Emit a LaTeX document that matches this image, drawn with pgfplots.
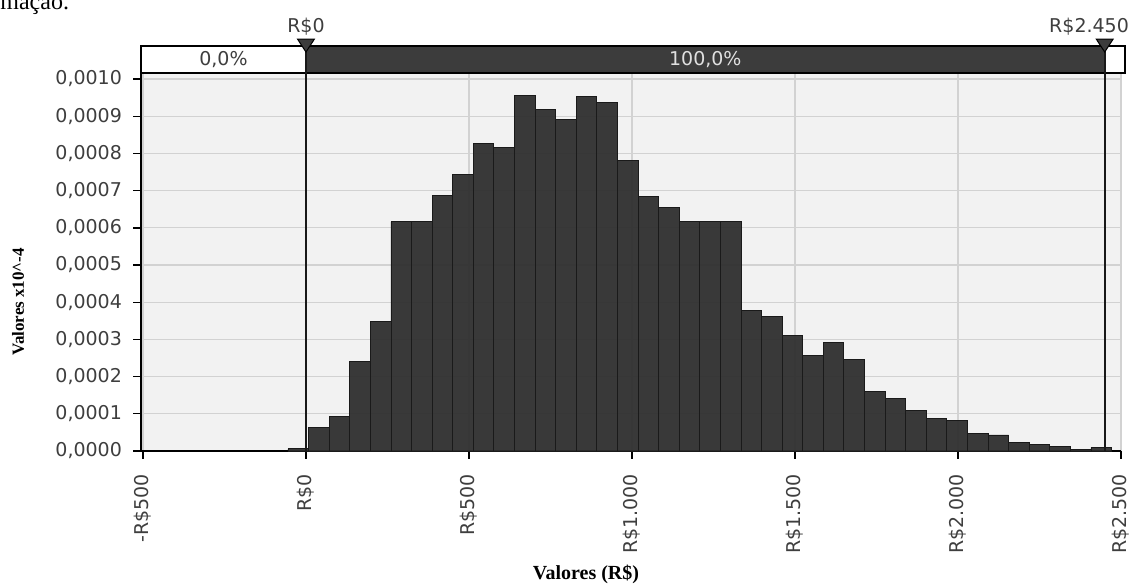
\documentclass[border=0pt]{standalone}
\usepackage{pgfplots}
\pgfplotsset{compat=1.18}
\usepackage{fontspec}
\setmainfont{DejaVu Sans}
\newfontfamily\serif{Liberation Serif}
\definecolor{bargray}{HTML}{2E2E2E}
\definecolor{barline}{HTML}{1A1A1A}
\definecolor{topdark}{HTML}{3C3C3C}
\definecolor{bgplot}{HTML}{F2F2F2}
\definecolor{gridc}{HTML}{D2D2D2}
\definecolor{txt}{HTML}{3E3E3E}
\begin{document}
\begin{tikzpicture}[x=1pt,y=1pt]
\useasboundingbox (0,0) rectangle (567,293.5);
\begin{axis}[
  at={(70.5pt,68pt)}, anchor=south west,
  scale only axis, width=490pt, height=189pt,
  xmin=-506, xmax=2500, ymin=0, ymax=0.0010162,
  axis x line=bottom, axis y line=left,
  axis line style={-, black, line width=0.8pt},
  axis background/.style={fill=bgplot},
  grid=major, grid style={gridc, line width=0.6pt},
  xtick={-500,0,500,1000,1500,2000,2500},
  xticklabels={-R\$500,R\$0,R\$500,R\$1.000,R\$1.500,R\$2.000,R\$2.500},
  ytick={0,0.0001,0.0002,0.0003,0.0004,0.0005,0.0006,0.0007,0.0008,0.0009,0.0010},
  yticklabels={{0,0000},{0,0001},{0,0002},{0,0003},{0,0004},{0,0005},{0,0006},{0,0007},{0,0008},{0,0009},{0,0010}},
  scaled y ticks=false,
  tick align=outside, major tick length=4pt,
  tick style={black, line width=0.7pt},
  xticklabel style={rotate=90, anchor=east, font=\fontsize{9.5}{11}\selectfont, color=txt},
  xticklabel shift=4pt,
  yticklabel style={font=\fontsize{9.5}{11}\selectfont, color=txt},
  yticklabel shift=2pt,
  clip=false,
]
\addplot[ybar interval, fill=bargray, fill opacity=0.94, draw=barline, line width=0.4pt] coordinates {
(-55.15,0.0000060)
(8,0.0000630)
(71.15,0.0000920)
(134.3,0.0002400)
(197.45,0.0003490)
(260.6,0.0006160)
(323.75,0.0006160)
(386.9,0.0006880)
(450.05,0.0007430)
(513.2,0.0008270)
(576.35,0.0008170)
(639.5,0.0009560)
(702.65,0.0009170)
(765.8,0.0008920)
(828.95,0.0009520)
(892.1,0.0009360)
(955.25,0.0007820)
(1018.4,0.0006840)
(1081.55,0.0006540)
(1144.7,0.0006160)
(1207.85,0.0006160)
(1271,0.0006160)
(1334.15,0.0003790)
(1397.3,0.0003610)
(1460.45,0.0003110)
(1523.6,0.0002560)
(1586.75,0.0002910)
(1649.9,0.0002460)
(1713.05,0.0001610)
(1776.2,0.0001420)
(1839.35,0.0001080)
(1902.5,0.0000880)
(1965.65,0.0000820)
(2028.8,0.0000480)
(2091.95,0.0000430)
(2155.1,0.0000230)
(2218.25,0.0000180)
(2281.4,0.0000130)
(2344.55,0.0000030)
(2407.7,0.0000090)
(2470.85,0)
};
% top delimiter bar
\fill[white] (axis cs:-506,0.0010162) rectangle (axis cs:2512,0.0010887);
\fill[topdark] (axis cs:0,0.0010162) rectangle (axis cs:2450,0.0010887);
\draw[black, line width=0.8pt] (axis cs:-506,0.0010162) rectangle (axis cs:2512,0.0010887);
\node[txt, font=\fontsize{9.5}{11}\selectfont] at (axis cs:-253,0.00105245) {0,0\%};
\node[white!88!black, font=\fontsize{9.5}{11}\selectfont] at (axis cs:1225,0.00105245) {100,0\%};
\draw[black!90, line width=1pt] (axis cs:0,0) -- (axis cs:0,0.0010887);
\draw[black!90, line width=1pt] (axis cs:2450,0) -- (axis cs:2450,0.0010887);
\fill[topdark, draw=black, line width=0.5pt] (axis cs:-26,0.0011075) -- (axis cs:26,0.0011075) -- (axis cs:0,0.0010726) -- cycle;
\fill[topdark, draw=black, line width=0.5pt] (axis cs:2424,0.0011075) -- (axis cs:2476,0.0011075) -- (axis cs:2450,0.0010726) -- cycle;
\node[txt, font=\fontsize{9.5}{11}\selectfont] at (axis cs:0,0.00114) {R\$0};
\node[txt, font=\fontsize{9.5}{11}\selectfont] at (axis cs:2402,0.00114) {R\$2.450};
\end{axis}
\node[rotate=90, font=\serif\bfseries\fontsize{8.5}{10}\selectfont] at (9,142.6) {Valores x10\textasciicircum-4};
\node[font=\serif\bfseries\fontsize{10}{12}\selectfont] at (293,6.5) {Valores (R\$)};
\node[anchor=base west, inner sep=0pt, font=\serif\fontsize{12}{14}\selectfont] at (0,288.75) {mação.};
\end{tikzpicture}
\end{document}
